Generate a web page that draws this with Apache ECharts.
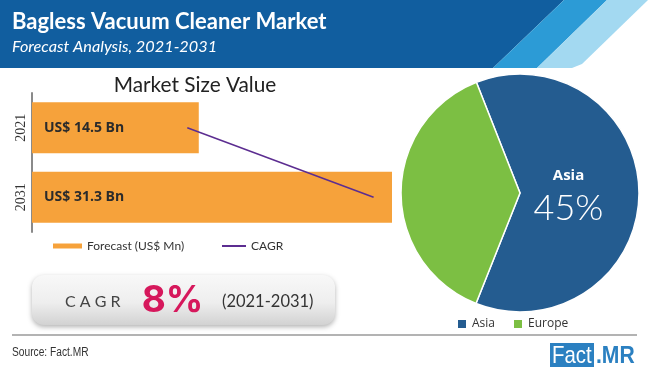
<!DOCTYPE html>
<html><head><meta charset="utf-8">
<script src="https://cdn.jsdelivr.net/npm/echarts@6/dist/echarts.min.js"></script>
<style>html,body{margin:0;padding:0;background:#fff}#c{width:650px;height:368px}</style>
</head><body><div id="c"></div>
<script>
const titleText = 'Bagless Vacuum Cleaner Market';
const subtitleText = 'Forecast Analysis, 2021-2031';
const panelTitle = 'Market Size Value';
const years = ['2021', '2031'];
const marketSize = [14.5, 31.3];          // US$ Bn
const cagrLine = [13.5, 29.7];            // CAGR trend line as drawn
const regions = ['Asia', 'Europe'];
const regionShare = [62, 38];             // slice sizes as drawn
const asiaLabel = '45%';
const cagrValue = '8%';
const cagrPeriod = '(2021-2031)';
const sourceText = 'Source: Fact.MR';

const BLUE = '#115e9f', ORANGE = '#f6a23b', PURPLE = '#5c2d91';
const ASIA = '#245c90', EUROPE = '#7cbf43';
const regionColors = [ASIA, EUROPE];

const chart = echarts.init(document.getElementById('c'), null, {renderer: 'canvas'});

const pieData = regions.map((r, i) => ({
  name: r, value: regionShare[i], itemStyle: {color: regionColors[i]},
  label: i === 0 ? {
    show: true, position: 'inside', padding: [4, 28, 0, 0],
    formatter: '{n|' + r + '}\n{p|' + asiaLabel + '}',
    rich: {
      n: {color: '#fff', fontSize: 15, fontWeight: 'bold', fontFamily: 'Open Sans', lineHeight: 26, align: 'center'},
      p: {color: '#fff', fontSize: 36, fontWeight: 300, fontFamily: 'Lato', lineHeight: 38, align: 'center'}
    }
  } : {show: false}
}));

chart.setOption({
  animation: false,
  title: {
    text: titleText, subtext: subtitleText, left: 7, top: 4, itemGap: 2, z: 10,
    textStyle: {color: '#fff', fontSize: 22, lineHeight: 26, fontWeight: 'bold', fontFamily: 'Lato'},
    subtextStyle: {color: '#fff', fontSize: 16.3, lineHeight: 20, fontStyle: 'italic', fontFamily: 'Lato'}
  },
  grid: {left: 32, top: 93, width: 360, height: 139, containLabel: false},
  xAxis: {type: 'value', min: 0, max: 'dataMax', show: false},
  yAxis: {
    type: 'category', data: years, inverse: true,
    axisLine: {show: true, lineStyle: {color: '#8a8a8a', width: 2}},
    axisTick: {show: false},
    axisLabel: {rotate: 90, color: '#333', fontSize: 14, fontFamily: 'Liberation Serif', margin: 4}
  },
  legend: [
    {data: ['Forecast (US$ Mn)'], left: 48, top: 235, icon: 'rect', itemWidth: 29, itemHeight: 5,
     selectedMode: false, textStyle: {color: '#333', fontSize: 12, fontFamily: 'Lato'}},
    {data: ['CAGR'], left: 217, top: 235, icon: 'rect', itemWidth: 24, itemHeight: 2,
     selectedMode: false, textStyle: {color: '#333', fontSize: 12, fontFamily: 'Lato'}},
    {data: regions, left: 451, top: 313, icon: 'rect', itemWidth: 10, itemHeight: 10, itemGap: 17,
     selectedMode: false, textStyle: {color: '#333', fontSize: 12, fontFamily: 'Open Sans'}}
  ],
  series: [
    {
      name: 'Forecast (US$ Mn)', type: 'bar', data: marketSize, barWidth: 51,
      itemStyle: {color: ORANGE},
      label: {show: true, position: 'insideLeft', distance: 12, formatter: 'US$ {c} Bn',
        color: '#2b2b2b', fontSize: 14, fontWeight: 'bold', fontFamily: 'Open Sans'}
    },
    {
      name: 'CAGR', type: 'line', data: cagrLine, symbol: 'none', z: 5,
      lineStyle: {color: PURPLE, width: 1.5}, itemStyle: {color: PURPLE}
    },
    {
      name: 'Region', type: 'pie', center: [520, 193], radius: 119, startAngle: 111.5,
      data: pieData, labelLine: {show: false},
      itemStyle: {borderColor: '#fff', borderWidth: 1.5}
    }
  ],
  graphic: [
    {type: 'polygon', z: 0, shape: {points: [[0,0],[564,0],[493,68],[0,68]]}, style: {fill: BLUE}},
    {type: 'polygon', z: 0, shape: {points: [[564,0],[607,0],[537,68],[493,68]]}, style: {fill: '#2c9bd6'}},
    {type: 'polygon', z: 0, shape: {points: [[607,0],[648,0],[582,64],[572,68],[537,68]]}, style: {fill: '#a3d9f1'}},
    {type: 'text', z: 5, x: 195, y: 85, style: {text: panelTitle, fill: '#222', fontSize: 20.8, fontFamily: 'Lato',
      textAlign: 'center', textVerticalAlign: 'middle'}},
    {type: 'rect', z: 1, shape: {x: 32, y: 275, width: 303, height: 50, r: 12},
      style: {fill: {type: 'linear', x: 0, y: 0, x2: 0, y2: 1, colorStops: [
        {offset: 0, color: '#f8f8f8'}, {offset: 0.55, color: '#eeeeee'}, {offset: 1, color: '#d2d2d2'}]},
        shadowBlur: 5, shadowColor: 'rgba(0,0,0,0.3)', shadowOffsetY: 2}},
    {type: 'text', z: 5, x: 65, y: 302, style: {text: 'C A G R', fill: '#444', fontSize: 16, fontFamily: 'Lato',
      textVerticalAlign: 'middle'}},
    {type: 'text', z: 5, x: 172.5, y: 301, style: {text: cagrValue, fill: '#d6185c', fontSize: 37, fontWeight: 'bold',
      fontFamily: 'Inter', textAlign: 'center', textVerticalAlign: 'middle'}},
    {type: 'text', z: 5, x: 222, y: 302, style: {text: cagrPeriod, fill: '#333', fontSize: 16.5, fontFamily: 'Lato',
      textVerticalAlign: 'middle'}},
    {type: 'line', z: 1, shape: {x1: 12, y1: 335, x2: 637, y2: 335}, style: {stroke: '#b3b3b3', lineWidth: 2}},
    {type: 'text', z: 5, x: 12, y: 353, scaleX: 0.85, style: {text: sourceText, fill: '#333', fontSize: 12,
      fontFamily: 'Liberation Sans', textVerticalAlign: 'middle'}},
    {type: 'rect', z: 2, shape: {x: 550, y: 343, width: 44, height: 24}, style: {fill: '#2b80c1'}},
    {type: 'text', z: 5, x: 552, y: 356, scaleX: 0.85, style: {text: 'Fact', fill: '#fff', fontSize: 24,
      fontFamily: 'Liberation Sans', textVerticalAlign: 'middle'}},
    {type: 'text', z: 5, x: 596, y: 356, scaleX: 0.88, style: {text: '.MR', fill: '#2b80c1', fontSize: 24, fontWeight: 'bold',
      fontFamily: 'Liberation Sans', textVerticalAlign: 'middle'}}
  ]
});
</script></body></html>
